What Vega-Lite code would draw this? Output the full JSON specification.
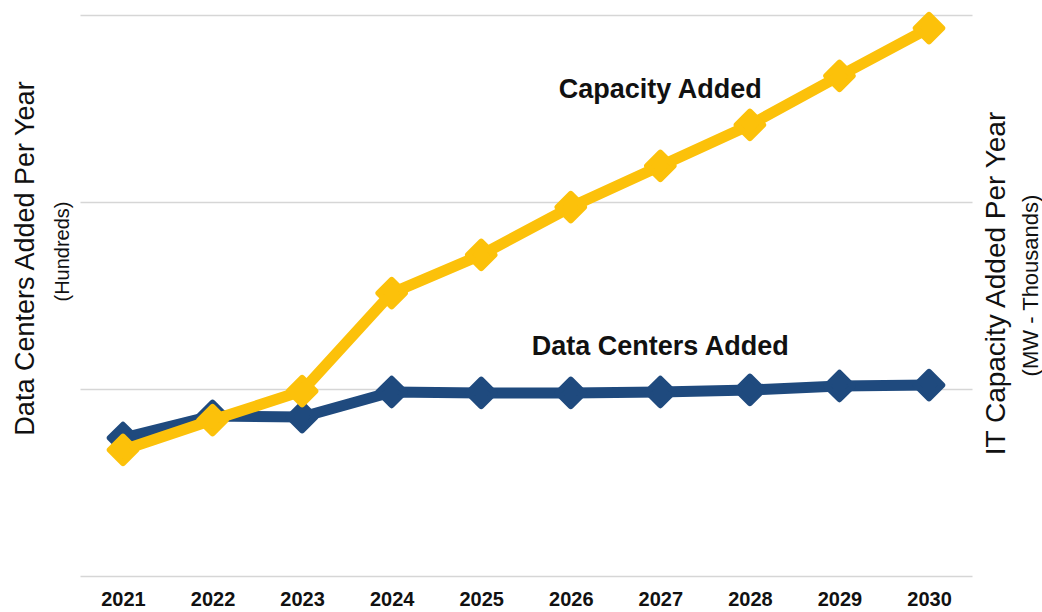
{
  "$schema": "https://vega.github.io/schema/vega-lite/v6.json",
  "autosize": "none",
  "width": 892,
  "height": 561,
  "padding": {"left": 80, "top": 15, "right": 70, "bottom": 36},
  "background": "white",
  "config": {
    "view": {"stroke": null},
    "font": "Liberation Sans",
    "axis": {"labelFont": "Liberation Sans", "titleFont": "Liberation Sans", "titleFontWeight": "normal", "titleColor": "#111111"}
  },
  "datasets": {
    "dc": [
      {"year": "2021", "value": 0.738},
      {"year": "2022", "value": 0.856},
      {"year": "2023", "value": 0.850},
      {"year": "2024", "value": 0.984},
      {"year": "2025", "value": 0.979},
      {"year": "2026", "value": 0.979},
      {"year": "2027", "value": 0.984},
      {"year": "2028", "value": 0.995},
      {"year": "2029", "value": 1.016},
      {"year": "2030", "value": 1.021}
    ],
    "cap": [
      {"year": "2021", "value": 0.674},
      {"year": "2022", "value": 0.834},
      {"year": "2023", "value": 0.989},
      {"year": "2024", "value": 1.513},
      {"year": "2025", "value": 1.717},
      {"year": "2026", "value": 1.973},
      {"year": "2027", "value": 2.193},
      {"year": "2028", "value": 2.412},
      {"year": "2029", "value": 2.674},
      {"year": "2030", "value": 2.930}
    ],
    "labels": [
      {"year": "2027", "value": 2.599, "label": "Capacity Added"},
      {"year": "2027", "value": 1.2246, "label": "Data Centers Added"}
    ]
  },
  "encoding": {
    "x": {
      "field": "year",
      "type": "ordinal",
      "scale": {"type": "point", "padding": 0.48},
      "axis": {
        "title": null,
        "domain": false,
        "ticks": false,
        "grid": false,
        "labelAngle": 0,
        "labelFont": "Liberation Sans",
        "labelFontSize": 20,
        "labelFontWeight": "bold",
        "labelColor": "#111111",
        "labelPadding": 13
      }
    }
  },
  "layer": [
    {
      "data": {"name": "dc"},
      "mark": {"type": "line", "color": "#1F4A7E", "strokeWidth": 11, "strokeCap": "round", "strokeJoin": "round"},
      "encoding": {
        "y": {
          "field": "value",
          "type": "quantitative",
          "scale": {"domain": [0, 3], "nice": false, "zero": true},
          "axis": {
            "orient": "left",
            "title": "(Hundreds)",
            "titleFontSize": 20,
            "titleAngle": 270,
            "titleBaseline": "middle",
            "titleAlign": "center",
            "titleX": -18,
            "titleY": 236,
            "labels": false,
            "ticks": false,
            "domain": false,
            "values": [0, 1, 2, 3],
            "grid": true,
            "gridColor": "#d6d6d6",
            "gridWidth": 1.6
          }
        }
      }
    },
    {
      "data": {"name": "dc"},
      "mark": {"type": "point", "shape": "diamond", "filled": true, "color": "#1F4A7E", "size": 700, "stroke": "#1F4A7E", "strokeWidth": 6, "strokeJoin": "round", "opacity": 1},
      "encoding": {
        "y": {
          "field": "value",
          "type": "quantitative",
          "axis": {
            "orient": "left",
            "title": "Data Centers Added Per Year",
            "titleFontSize": 27,
            "titleAngle": 270,
            "titleBaseline": "middle",
            "titleAlign": "center",
            "titleX": -55,
            "titleY": 243,
            "labels": false,
            "ticks": false,
            "domain": false,
            "grid": false
          }
        }
      }
    },
    {
      "data": {"name": "cap"},
      "mark": {"type": "line", "color": "#FCC10A", "strokeWidth": 11, "strokeCap": "round", "strokeJoin": "round"},
      "encoding": {
        "y": {
          "field": "value",
          "type": "quantitative",
          "axis": {
            "orient": "right",
            "title": "IT Capacity Added Per Year",
            "titleFontSize": 28,
            "titleAngle": 270,
            "titleBaseline": "middle",
            "titleAlign": "center",
            "titleX": 24,
            "titleY": 268,
            "labels": false,
            "ticks": false,
            "domain": false,
            "grid": false
          }
        }
      }
    },
    {
      "data": {"name": "cap"},
      "mark": {"type": "point", "shape": "diamond", "filled": true, "color": "#FCC10A", "size": 700, "stroke": "#FCC10A", "strokeWidth": 6, "strokeJoin": "round", "opacity": 1},
      "encoding": {
        "y": {
          "field": "value",
          "type": "quantitative",
          "axis": {
            "orient": "right",
            "title": "(MW - Thousands)",
            "titleFontSize": 22,
            "titleAngle": 270,
            "titleBaseline": "middle",
            "titleAlign": "center",
            "titleX": 58,
            "titleY": 270,
            "labels": false,
            "ticks": false,
            "domain": false,
            "grid": false
          }
        }
      }
    },
    {
      "data": {"name": "labels"},
      "mark": {"type": "text", "font": "Liberation Sans", "fontSize": 27, "fontWeight": "bold", "color": "#111111", "align": "center", "baseline": "middle"},
      "encoding": {
        "y": {"field": "value", "type": "quantitative", "axis": null},
        "text": {"field": "label"}
      }
    }
  ],
  "resolve": {"axis": {"y": "independent"}}
}
